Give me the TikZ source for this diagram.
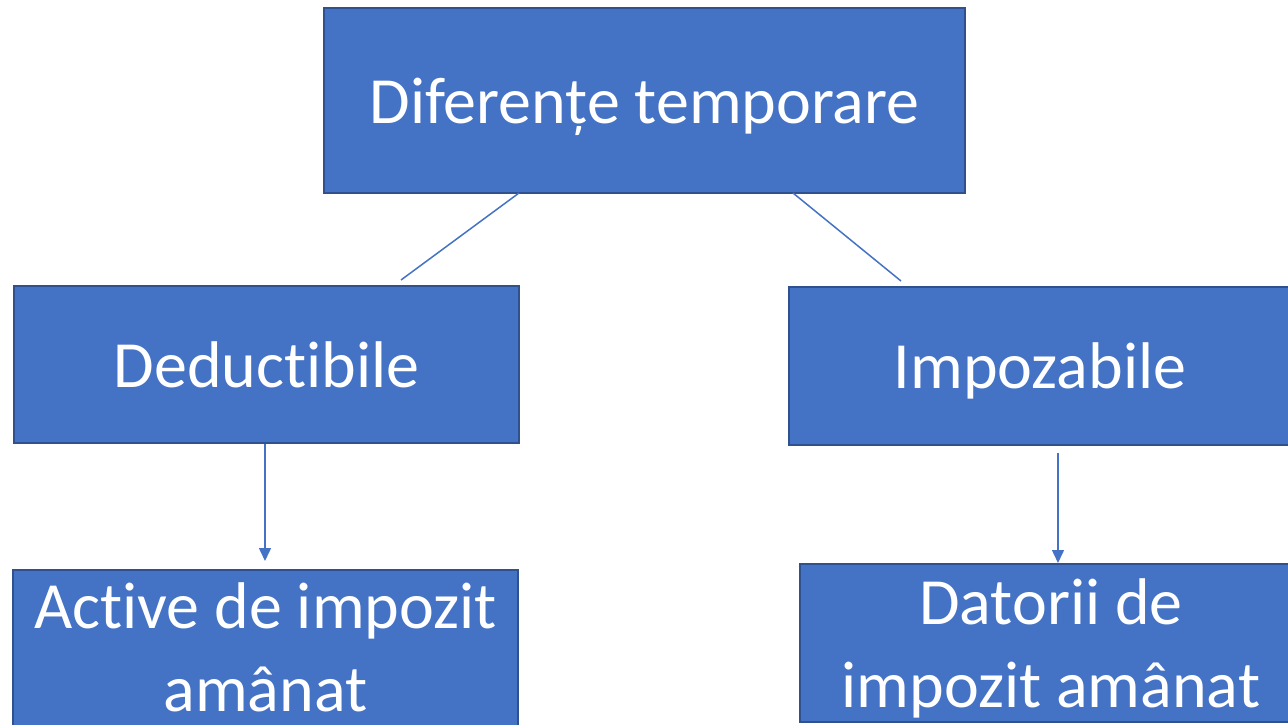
\documentclass[tikz,border=0pt]{standalone}
\usepackage{fontspec}
\setmainfont[Ligatures=NoCommon]{Carlito}
\usetikzlibrary{arrows.meta}
\definecolor{boxfill}{HTML}{4472C4}
\definecolor{boxline}{HTML}{2F528F}
\begin{document}
\begin{tikzpicture}[x=1pt,y=-1pt,
  box/.style={draw=boxline,line width=2pt,fill=boxfill},
  lbl/.style={text=white,align=center,inner sep=0pt,font=\fontsize{66}{83}\selectfont},
  conn/.style={draw=boxfill,line width=1.5pt},
  arr/.style={conn,-{Triangle[length=13pt,width=12pt]}}]
\useasboundingbox (0,0) rectangle (1288,725);
\begin{scope}
\clip (0,0) rectangle (1288,725);
\node[box,minimum width=641pt,minimum height=185pt] (top) at (644.5,100.5) {};
\node[lbl] (topt) at (644.5,107) {Diferențe temporare};
\node[box,minimum width=505pt,minimum height=157pt] (ded) at (266.5,364.5) {};
\node[lbl] (dedt) at (266.5,365) {Deductibile};
\node[box,minimum width=510pt,minimum height=158pt] (imp) at (1044,366) {};
\node[lbl] (impt) at (1040,371) {Impozabile};
\node[box,minimum width=505pt,minimum height=158pt] (act) at (265.5,648.5) {};
\node[lbl] (actt) at (265.5,647) {Active de impozit\\amânat};
\node[box,minimum width=500pt,minimum height=158pt] (dat) at (1050,643) {};
\node[lbl] (datt) at (1051,648) {Datorii de\\impozit amânat};
\end{scope}
\coordinate (l1) at (519,193);
\coordinate (l1e) at (401,280);
\coordinate (r1) at (793,193);
\coordinate (r1e) at (901,281);
\draw[conn] (l1) -- (l1e);
\draw[conn] (r1) -- (r1e);
\coordinate (a1) at (265,444);
\coordinate (a1e) at (265,561);
\coordinate (a2) at (1058,453);
\coordinate (a2e) at (1058,563);
\draw[arr] (a1) -- (a1e);
\draw[arr] (a2) -- (a2e);
\end{tikzpicture}
\end{document}
